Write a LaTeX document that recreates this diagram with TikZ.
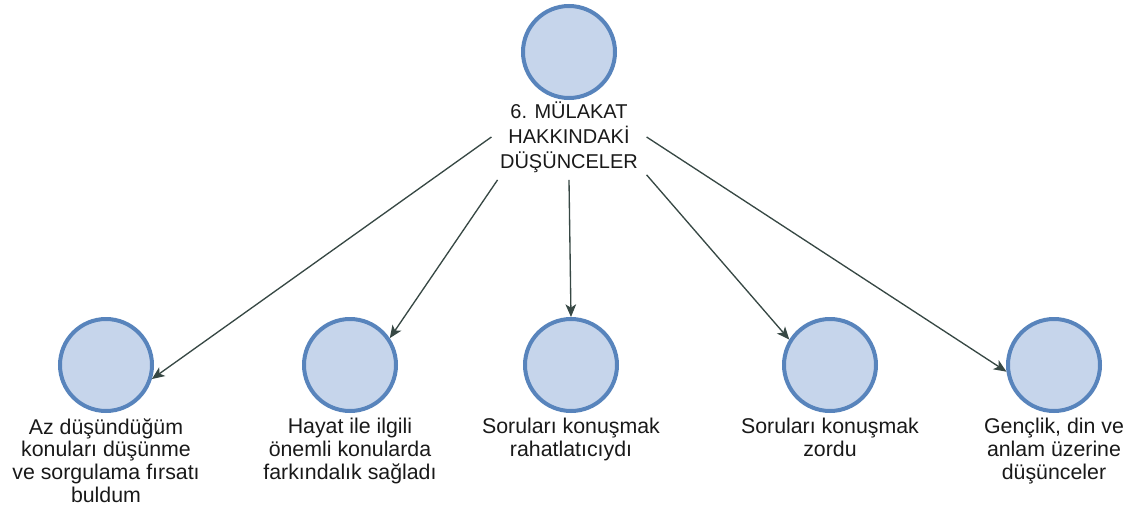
\documentclass[tikz,border=0pt]{standalone}
\usepackage{fontspec}
\setmainfont{Liberation Sans}
\usetikzlibrary{arrows.meta}
\definecolor{cfill}{RGB}{198,213,235}
\definecolor{cdraw}{RGB}{88,132,188}
\definecolor{arrc}{RGB}{55,72,68}
\definecolor{txt}{RGB}{25,25,25}
\begin{document}
\begin{tikzpicture}[x=0.75pt,y=-0.75pt,
  circ/.style={circle,draw=cdraw,fill=cfill,line width=3pt,minimum size=69pt,inner sep=0pt},
  lab/.style={align=center,font=\fontsize{16}{17}\selectfont,text=txt,inner sep=0pt,anchor=north},
  toplab/.style={align=center,font=\fontsize{15}{18.75}\selectfont,text=txt,inner sep=0pt,minimum width=116pt,minimum height=64pt},
  arr/.style={draw=arrc,line width=1pt,-{Stealth[length=9.5pt,width=8pt,inset=2.5pt]}}]
\useasboundingbox (0,0) rectangle (1136,518);
\node[circ] (top) at (569,52) {};
\node[toplab] (tl) at (569,137) {6. MÜLAKAT\\HAKKINDAKİ\\DÜŞÜNCELER};
\node[circ] (c1) at (106,365) {};
\node[circ] (c2) at (350,365) {};
\node[circ] (c3) at (571,365) {};
\node[circ] (c4) at (830,365) {};
\node[circ] (c5) at (1054,365) {};
\node[lab] (l1) at (106,418) {Az düşündüğüm\\konuları düşünme\\ve sorgulama fırsatı\\buldum};
\node[lab] (l2) at (350,418) {Hayat ile ilgili\\önemli konularda\\farkındalık sağladı};
\node[lab] (l3) at (571,418) {Soruları konuşmak\\rahatlatıcıydı};
\node[lab] (l4) at (830,418) {Soruları konuşmak\\zordu};
\node[lab] (l5) at (1054,418) {Gençlik, din ve\\anlam üzerine\\düşünceler};
\draw[arr] (tl.west) -- (c1.-17);
\draw[arr] (tl.211) -- (c2.34);
\draw[arr] (tl.south) -- (c3.north);
\draw[arr] (tl.-26) -- (c4.148);
\draw[arr] (tl.east) -- (c5.188);
\end{tikzpicture}
\end{document}
